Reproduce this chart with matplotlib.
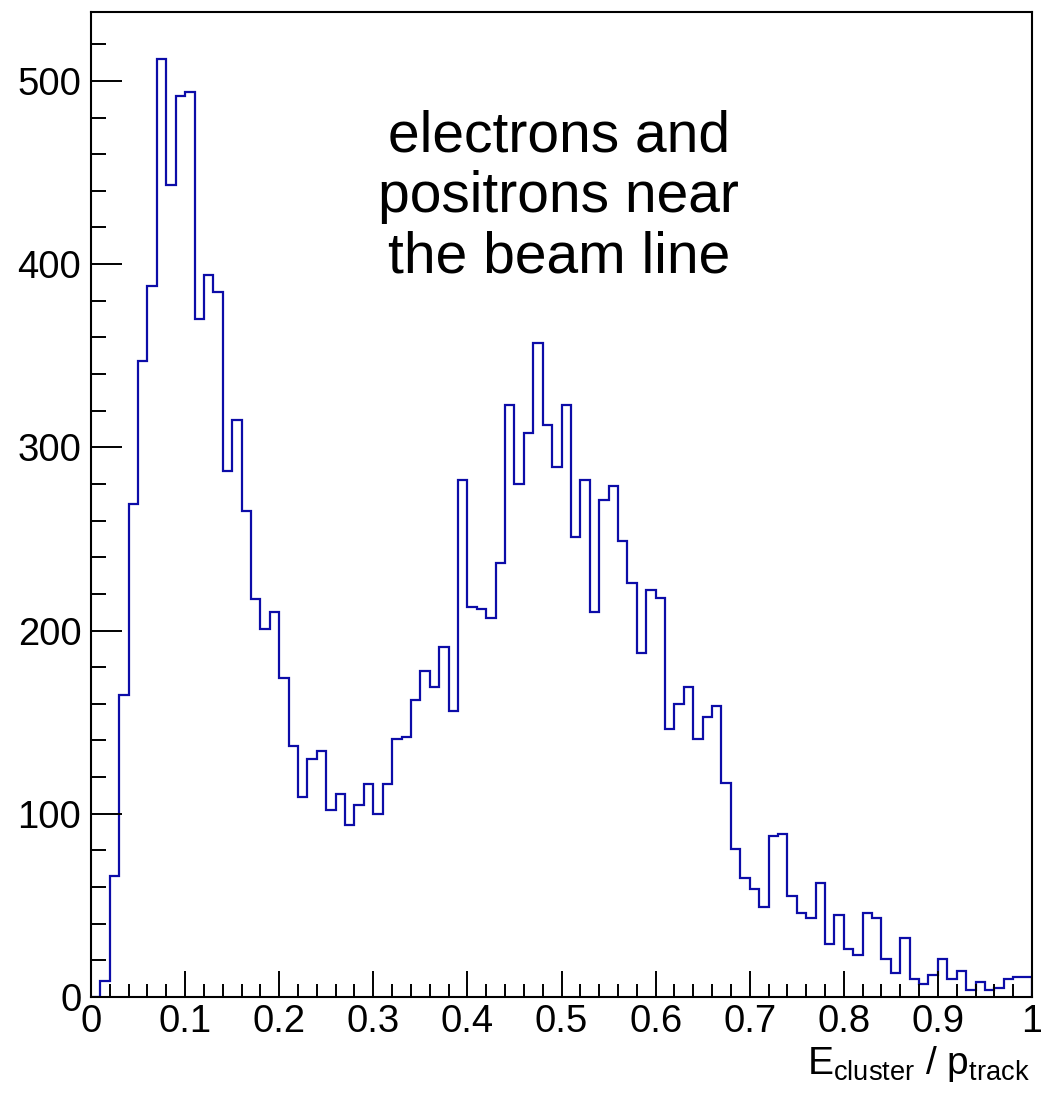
import numpy as np
import matplotlib
matplotlib.use('Agg')
import matplotlib.pyplot as plt
from matplotlib.ticker import MultipleLocator, FormatStrFormatter

plt.rcParams['font.family'] = ['Liberation Sans', 'DejaVu Sans']
plt.rcParams['mathtext.fontset'] = 'custom'
plt.rcParams['mathtext.rm'] = 'Liberation Sans'
plt.rcParams['mathtext.it'] = 'Liberation Sans'

# E/p histogram, 100 bins from 0 to 1
bin_edges = np.linspace(0.0, 1.0, 101)
counts = [0, 9, 66, 165, 269, 347, 388, 512, 443, 492,
          494, 370, 394, 385, 287, 315, 265, 217, 201, 210,
          174, 137, 109, 130, 134, 102, 111, 94, 105, 116,
          100, 116, 141, 142, 162, 178, 169, 191, 156, 282,
          213, 212, 207, 237, 323, 280, 308, 357, 312, 289,
          323, 251, 282, 210, 271, 279, 249, 226, 188, 222,
          218, 146, 160, 169, 141, 153, 159, 117, 81, 65,
          59, 49, 88, 89, 55, 46, 43, 62, 29, 45,
          26, 23, 46, 43, 21, 13, 32, 10, 7, 12,
          21, 10, 14, 4, 8, 4, 5, 10, 11, 11]
label_text = "electrons and\npositrons near\nthe beam line"

fig = plt.figure(figsize=(10.41, 10.97), dpi=100)
ax = fig.add_axes([91 / 1041, 1 - 997 / 1097, 941 / 1041, 985 / 1097])

ax.stairs(counts, bin_edges, baseline=0, color='#0c0ca8', linewidth=1.6)

ax.set_xlim(0, 1)
ax.set_ylim(0, 1.05 * max(counts))

ax.xaxis.set_major_locator(MultipleLocator(0.1))
ax.xaxis.set_minor_locator(MultipleLocator(0.02))
ax.yaxis.set_major_locator(MultipleLocator(100))
ax.yaxis.set_minor_locator(MultipleLocator(20))
ax.xaxis.set_major_formatter(FormatStrFormatter('%g'))
ax.yaxis.set_major_formatter(FormatStrFormatter('%g'))

ax.tick_params(axis='both', which='both', direction='in', width=1.4,
               top=False, right=False, labelsize=27.5)
ax.tick_params(axis='y', which='major', length=22, pad=7)
ax.tick_params(axis='y', which='minor', length=11)
ax.tick_params(axis='x', which='major', length=19, pad=5)
ax.tick_params(axis='x', which='minor', length=9.5)
for s in ax.spines.values():
    s.set_linewidth(1.5)

ax.text(0.497, 0.812, label_text, transform=ax.transAxes, ha='center',
        va='center', fontsize=41, linespacing=1.16)

fig.text(1030 / 1041, 1 - 1064 / 1097,
         r'$\mathregular{E_{cluster}\ /\ p_{track}}$',
         ha='right', va='center', fontsize=28)

fig.savefig('out.png', dpi=100)
